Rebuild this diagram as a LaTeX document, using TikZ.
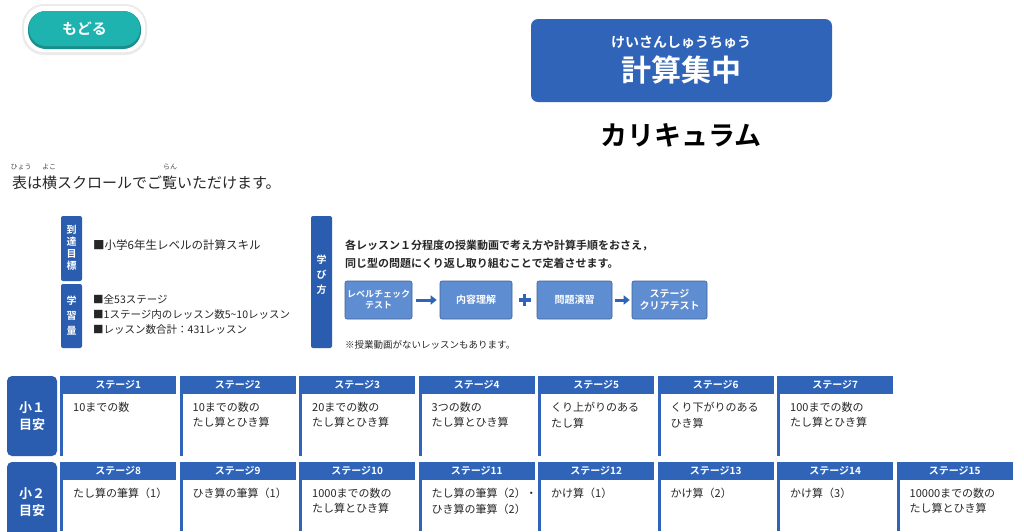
\documentclass[tikz,border=0pt]{standalone}
\usepackage{fontspec}
\setmainfont{Noto Sans CJK JP}
\newfontfamily\jpb{Noto Sans CJK JP Bold}
\usetikzlibrary{arrows.meta}
\definecolor{mblue}{HTML}{2F64B8}
\definecolor{dblue}{HTML}{2A5DB0}
\definecolor{fblue}{HTML}{5E8DD2}
\definecolor{teal}{HTML}{1FB3B0}
\tikzset{
 x=1pt,y=-1pt,
 vbar/.style={fill=dblue,rounded corners=2pt},
 vtxt/.style={text=white,font=\fontsize{10}{12}\selectfont\jpb,align=center},
 body/.style={anchor=west,font=\fontsize{11.5}{13}\selectfont,text=black!85,align=left,inner sep=0pt},
 flow/.style={fill=fblue,draw=fblue!70!black,line width=0.6pt,rounded corners=2pt,text=white,font=\fontsize{10}{12}\selectfont\jpb,align=center,minimum height=38pt,inner sep=0pt},
 hdr/.style={fill=mblue,text=white,font=\fontsize{10}{10}\selectfont\jpb,minimum width=116pt,minimum height=18pt,inner sep=0pt,anchor=north west},
 cell/.style={anchor=north west,font=\fontsize{11}{15.5}\selectfont,text=black!85,align=left,inner sep=0pt},
 rowlab/.style={fill=dblue,rounded corners=5pt,text=white,font=\fontsize{13}{17}\selectfont\jpb,align=center},
}
\begin{document}
\begin{tikzpicture}
\useasboundingbox (0,0) rectangle (1024,531);
\fill[white] (0,0) rectangle (1024,531);
% back button
\fill[black!8,rounded corners=22pt] (22,4) rectangle (147,55);
\fill[white,rounded corners=20pt] (24,6) rectangle (145,52);
\fill[teal!80!black,rounded corners=18pt] (28,11) rectangle (141,49);
\node[fill=teal,rounded corners=17pt,minimum width=111pt,minimum height=35pt,text=white,font=\fontsize{15}{16}\selectfont\jpb] (back) at (84.5,28.5) {もどる};
% title
\node[fill=mblue,rounded corners=7pt,minimum width=301pt,minimum height=83pt] (title) at (681.5,60.5) {};
\node[text=white,font=\fontsize{14}{14}\selectfont\jpb] (ruby) at (681,42) {けいさんしゅうちゅう};
\node[text=white,font=\fontsize{30}{30}\selectfont\jpb] (tname) at (681,70) {計算集中};
\node[font=\fontsize{27}{28}\selectfont\jpb] (cur) at (681,135) {カリキュラム};
% scroll note
\node[anchor=west,inner sep=0pt,font=\fontsize{15}{15}\selectfont,text=black!85] (scroll) at (12,183) {表は横スクロールでご覧いただけます。};
\node[inner sep=0pt,font=\fontsize{7}{7}\selectfont,text=black!70] (r1) at (21,167) {ひょう};
\node[inner sep=0pt,font=\fontsize{7}{7}\selectfont,text=black!70] (r2) at (49,167) {よこ};
\node[inner sep=0pt,font=\fontsize{7}{7}\selectfont,text=black!70] (r3) at (170,167) {らん};
% left info
\fill[vbar] (61,216) rectangle (82,281);
\node[vtxt] (l1) at (71.5,248) {到\\達\\目\\標};
\fill[vbar] (61,284) rectangle (82,348);
\node[vtxt,font=\fontsize{10}{15}\selectfont\jpb] (l2) at (71.5,316) {学\\習\\量};
\node[body] (g1) at (93,245) {■小学6年生レベルの計算スキル};
\node[body,font=\fontsize{10.5}{15}\selectfont] (g2) at (93,315) {■全53ステージ\\■1ステージ内のレッスン数5\textasciitilde10レッスン\\■レッスン数合計：431レッスン};
% learning method
\fill[vbar] (311,216) rectangle (332,348);
\node[vtxt,font=\fontsize{10}{15}\selectfont\jpb] (l3) at (321.5,275) {学\\び\\方};
\node[body,font=\fontsize{11}{18}\selectfont\jpb,text=black!85] (desc) at (345,254) {各レッスン１分程度の授業動画で考え方や計算手順をおさえ，\\同じ型の問題にくり返し取り組むことで定着させます。};
\node[flow,minimum width=67pt,font=\fontsize{9}{11}\selectfont\jpb] (f1) at (378.5,300) {レベルチェック\\テスト};
\node[flow,minimum width=72pt] (f2) at (476,300) {内容理解};
\node[flow,minimum width=75pt] (f3) at (574.5,300) {問題演習};
\node[flow,minimum width=75pt] (f4) at (669.5,300) {ステージ\\クリアテスト};
\draw[mblue,line width=3pt,-{Triangle[length=6pt,width=9pt]}] (f1.east) ++(4,0) -- ([xshift=-3pt]f2.west);
\draw[mblue,line width=3pt,-{Triangle[length=6pt,width=9pt]}] (f3.east) ++(3,0) -- ([xshift=-2pt]f4.west);
\coordinate (pc) at (524.5,300);
\draw[mblue,line width=3.5pt] ([xshift=-6pt]pc) -- ([xshift=6pt]pc) ([yshift=-6pt]pc) -- ([yshift=6pt]pc);
\node[body,font=\fontsize{9.5}{10}\selectfont] (note) at (345,345) {※授業動画がないレッスンもあります。};
% rows
\node[rowlab,minimum width=50pt,minimum height=80pt] (row1) at (32,416) {小１\\目安};
\node[rowlab,minimum width=50pt,minimum height=80pt] (row2) at (32,502) {小２\\目安};
\foreach \i/\t [count=\k from 0] in {1/10までの数,2/{10までの数の\\たし算とひき算},3/{20までの数の\\たし算とひき算},4/{3つの数の\\たし算とひき算},5/{くり上がりのある\\たし算},6/{くり下がりのある\\ひき算},7/{100までの数の\\たし算とひき算}}{
  \node[hdr] (h\i) at (60+119.5*\k,376) {ステージ\i};
  \fill[mblue] (60+119.5*\k,394) rectangle (63+119.5*\k,456);
  \node[cell] (c\i) at (73+119.5*\k,402) {\t};
}
\foreach \i/\t [count=\k from 0] in {8/たし算の筆算（1）,9/ひき算の筆算（1）,10/{1000までの数の\\たし算とひき算},11/{たし算の筆算（2）・\\ひき算の筆算（2）},12/かけ算（1）,13/かけ算（2）,14/かけ算（3）,15/{10000までの数の\\たし算とひき算}}{
  \node[hdr] (h\i) at (60+119.5*\k,462) {ステージ\i};
  \fill[mblue] (60+119.5*\k,480) rectangle (63+119.5*\k,531);
  \node[cell] (c\i) at (73+119.5*\k,488) {\t};
}
\end{tikzpicture}
\end{document}
